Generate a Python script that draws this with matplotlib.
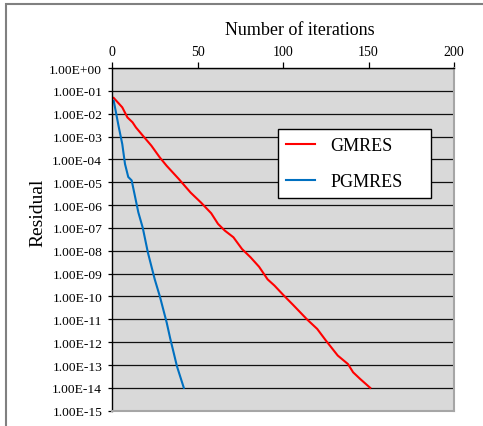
import matplotlib
matplotlib.use("Agg")
import matplotlib.pyplot as plt
import matplotlib.ticker as mticker
from matplotlib.patches import Rectangle

# ── data ──────────────────────────────────────────────────────────────────────
gmres_iter = [1, 6, 9, 12, 14, 18, 23, 28, 32, 39, 46, 52, 58, 62, 66, 71,
              76, 81, 86, 91, 95, 100, 106, 114, 120, 125, 132, 138, 141,
              145, 151]
gmres_res = [4.9e-2, 1.9e-2, 6.9e-3, 4.2e-3, 2.5e-3, 1.1e-3, 4.0e-4, 1.2e-4,
             5.2e-5, 1.4e-5, 3.5e-6, 1.3e-6, 4.4e-7, 1.5e-7, 7.6e-8, 3.9e-8,
             1.2e-8, 5.2e-9, 2.0e-9, 5.6e-10, 3.0e-10, 1.2e-10, 4.2e-11,
             1.0e-11, 3.8e-12, 1.2e-12, 2.6e-13, 1.1e-13, 4.8e-14, 2.5e-14,
             1.0e-14]

pgmres_iter = [1, 4, 6, 7.6, 9.5, 11.5, 15.4, 18, 21, 25, 28, 32, 34, 38, 42]
pgmres_res = [3.7e-2, 2.5e-3, 4.7e-4, 6.3e-5, 1.7e-5, 1.2e-5, 4.8e-7, 1.0e-7,
              8.3e-9, 5.6e-10, 1.0e-10, 7.1e-12, 1.5e-12, 8.7e-14, 1.0e-14]

x_ticks = [0, 50, 100, 150, 200]
y_ticks = [10.0 ** -k for k in range(0, 16)]

# ── figure ────────────────────────────────────────────────────────────────────
plt.rcParams["font.family"] = ["Liberation Serif", "DejaVu Serif"]

W, H = 483, 427
fig = plt.figure(figsize=(W / 100, H / 100), dpi=100)

# outer chart frame (cut off at right / bottom like the screenshot)
fig.patches.append(Rectangle((6 / W, -0.1), 1.2, 1.1 - 5 / H,
                             transform=fig.transFigure, fill=False,
                             edgecolor="#808080", linewidth=1.5))

ax = fig.add_axes([112 / W, 1 - 411.7 / H, 342 / W, 342.7 / H])
ax.set_facecolor("#d9d9d9")

ax.plot(gmres_iter, gmres_res, color="#ff0000", linewidth=1.5, label="GMRES")
ax.plot(pgmres_iter, pgmres_res, color="#0070c0", linewidth=1.5, label="PGMRES")

ax.set_yscale("log")
ax.set_ylim(1e-15, 1)
ax.set_xlim(0, 200)

ax.yaxis.set_major_locator(mticker.FixedLocator(y_ticks))
ax.yaxis.set_minor_locator(mticker.NullLocator())
ax.yaxis.set_major_formatter(mticker.FuncFormatter(lambda v, _: f"{v:.2E}"))
ax.set_xticks(x_ticks)

ax.grid(axis="y", color="#111111", linewidth=0.9)
ax.set_axisbelow(True)

ax.xaxis.tick_top()
ax.xaxis.set_label_position("top")
ax.tick_params(axis="x", direction="out", length=4, width=0.9, pad=3.5,
               labelsize=10, bottom=False, top=True)
ax.tick_params(axis="y", direction="out", length=3, width=0.9, pad=4,
               labelsize=9.7)

for side in ("left", "top"):
    ax.spines[side].set_color("black")
    ax.spines[side].set_linewidth(1.0)
for side in ("right", "bottom"):
    ax.spines[side].set_color("#a6a6a6")
    ax.spines[side].set_linewidth(1.5)

ax.set_xlabel("Number of iterations", fontsize=13)
ax.xaxis.set_label_coords(0.55, 1.10)
ax.set_ylabel("Residual", fontsize=14)
ax.yaxis.set_label_coords(-0.193, 0.58)

leg = ax.legend(loc="upper left",
                bbox_to_anchor=(278 / W, 1 - 203 / H, 153 / W, 73 / H),
                bbox_transform=fig.transFigure, borderaxespad=0, mode="expand",
                fontsize=13, frameon=True, fancybox=False,
                handlelength=1.6, handletextpad=0.85, labelspacing=1.05,
                borderpad=0.45)
leg.get_frame().set_edgecolor("black")
leg.get_frame().set_linewidth(1.0)
leg.get_frame().set_facecolor("white")
leg.get_frame().set_alpha(1)

fig.savefig("out.png", dpi=100)
